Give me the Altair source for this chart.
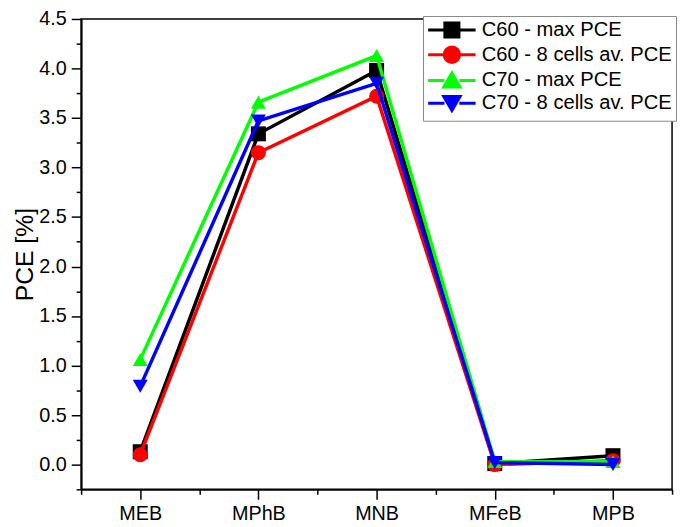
import altair as alt
import pandas as pd

categories = ["MEB", "MPhB", "MNB", "MFeB", "MPB"]
series_names = ["C60 - max PCE", "C60 - 8 cells av. PCE", "C70 - max PCE", "C70 - 8 cells av. PCE"]
series_colors = ["#000000", "#ff0000", "#00ff00", "#0000ff"]
series_shapes = ["square", "circle", "triangle-up", "triangle-down"]

c60_max = [0.13, 3.34, 3.98, 0.01, 0.09]
c60_av = [0.10, 3.15, 3.72, 0.00, 0.04]
c70_max = [1.06, 3.66, 4.13, 0.03, 0.03]
c70_av = [0.79, 3.47, 3.85, 0.02, 0.00]
all_values = [c60_max, c60_av, c70_max, c70_av]

y_major = [0, 0.5, 1, 1.5, 2, 2.5, 3, 3.5, 4, 4.5]
y_minor = [-0.25, 0.25, 0.75, 1.25, 1.75, 2.25, 2.75, 3.25, 3.75, 4.25]
x_major = [1, 2, 3, 4, 5]
x_minor = [0.5, 1.5, 2.5, 3.5, 4.5, 5.5]

rows = []
for name, vals in zip(series_names, all_values):
    for i, (cat, v) in enumerate(zip(categories, vals)):
        rows.append({"series": name, "cat": cat, "pos": i + 1, "pce": v})
df = pd.DataFrame(rows)

FONT = "Liberation Sans"
xscale = alt.Scale(domain=[0.5, 5.5], nice=False, zero=False)
yscale = alt.Scale(domain=[-0.25, 4.5], nice=False, zero=False)
cat_expr = "[" + ",".join("'%s'" % c for c in categories) + "][datum.value - 1]"

axis_common = dict(domainColor="black", domainWidth=1.5, tickColor="black", tickWidth=1.5,
                   ticks=True, grid=False, labelFont=FONT, labelColor="black",
                   titleFont=FONT, titleColor="black")

x_main = alt.X("pos:Q", scale=xscale, axis=alt.Axis(orient="bottom", values=x_major, labelExpr=cat_expr,
               tickSize=10, labelFontSize=20, labelPadding=5, title=None, **axis_common))
y_main = alt.Y("pce:Q", scale=yscale, axis=alt.Axis(orient="left", values=y_major, format=".1f",
               tickSize=10, labelFontSize=20, labelPadding=5, title="PCE [%]", titleFontSize=25,
               titleFontWeight="normal", titlePadding=1, **axis_common))
x_min = alt.X("pos:Q", scale=xscale, axis=alt.Axis(orient="bottom", values=x_minor, labels=False,
              tickSize=5, title=None, **axis_common))
y_min = alt.Y("pce:Q", scale=yscale, axis=alt.Axis(orient="left", values=y_minor, labels=False,
              tickSize=5, title=None, **axis_common))
x_none = alt.X("pos:Q", scale=xscale, axis=None)
y_none = alt.Y("pce:Q", scale=yscale, axis=None)

# legend symbols: a line segment through the marker
legend_shapes = [
    "M-3.2,0H-1M1,0H3.2M-0.95,-0.95H0.95V0.95H-0.95Z",
    "M-3.2,0H-1M1,0H3.2M-1.05,0A1.05,1.05 0 1,1 1.05,0A1.05,1.05 0 1,1 -1.05,0Z",
    "M-3.2,0H-1M1,0H3.2M0,-1L1.1,0.9H-1.1Z",
    "M-3.2,0H-1M1,0H3.2M0,1L1.1,-0.9H-1.1Z",
]

legend = alt.Legend(
    title=None, orient="none", legendX=346, legendY=-3,
    labelFont=FONT, labelFontSize=20.4, labelColor="black", labelLimit=400,
    symbolSize=225, symbolOffset=15, labelOffset=20, rowPadding=-3,
    padding=4, strokeColor="#888888", fillColor="white",
    symbolStrokeWidth=3, symbolOpacity=1,
)
color_scale = alt.Scale(domain=series_names, range=series_colors)
color_enc = alt.Color("series:N", scale=color_scale, legend=None)
shape_enc = alt.Shape("series:N", scale=alt.Scale(domain=series_names, range=series_shapes), legend=None)

base = alt.Chart(df)
layers = [
    base.mark_point(opacity=0).encode(x=x_main, y=y_main),
    base.mark_point(opacity=0).encode(x=x_min, y=y_min),
]
for name in series_names:
    sub = base.transform_filter(alt.datum.series == name)
    layers.append(sub.mark_line(strokeWidth=3.5).encode(x=x_none, y=y_none, color=color_enc,
                                                         order="pos:Q"))
    layers.append(sub.mark_point(filled=True, size=230, opacity=1).encode(
        x=x_none, y=y_none, color=color_enc, shape=shape_enc))

legend_layer = base.transform_filter("false").mark_point(filled=True, strokeWidth=3).encode(
    x=x_none, y=y_none,
    color=alt.Color("series:N", scale=color_scale, legend=legend),
    stroke=alt.Stroke("series:N", scale=alt.Scale(domain=series_names, range=series_colors), legend=legend),
    shape=alt.Shape("series:N", scale=alt.Scale(domain=series_names, range=legend_shapes), legend=legend),
)
layers.append(legend_layer)

chart = alt.layer(*layers).resolve_axis(x="independent", y="independent").resolve_scale(
    color="independent", shape="independent", stroke="independent"
).properties(
    width=598, height=476,
    autosize=alt.AutoSizeParams(type="none"),
    padding={"left": 74, "top": 8, "right": 5, "bottom": 35},
).configure_view(stroke="black", strokeWidth=1.5)

chart.save("out.html", embed_options={"renderer": "svg", "actions": False})
